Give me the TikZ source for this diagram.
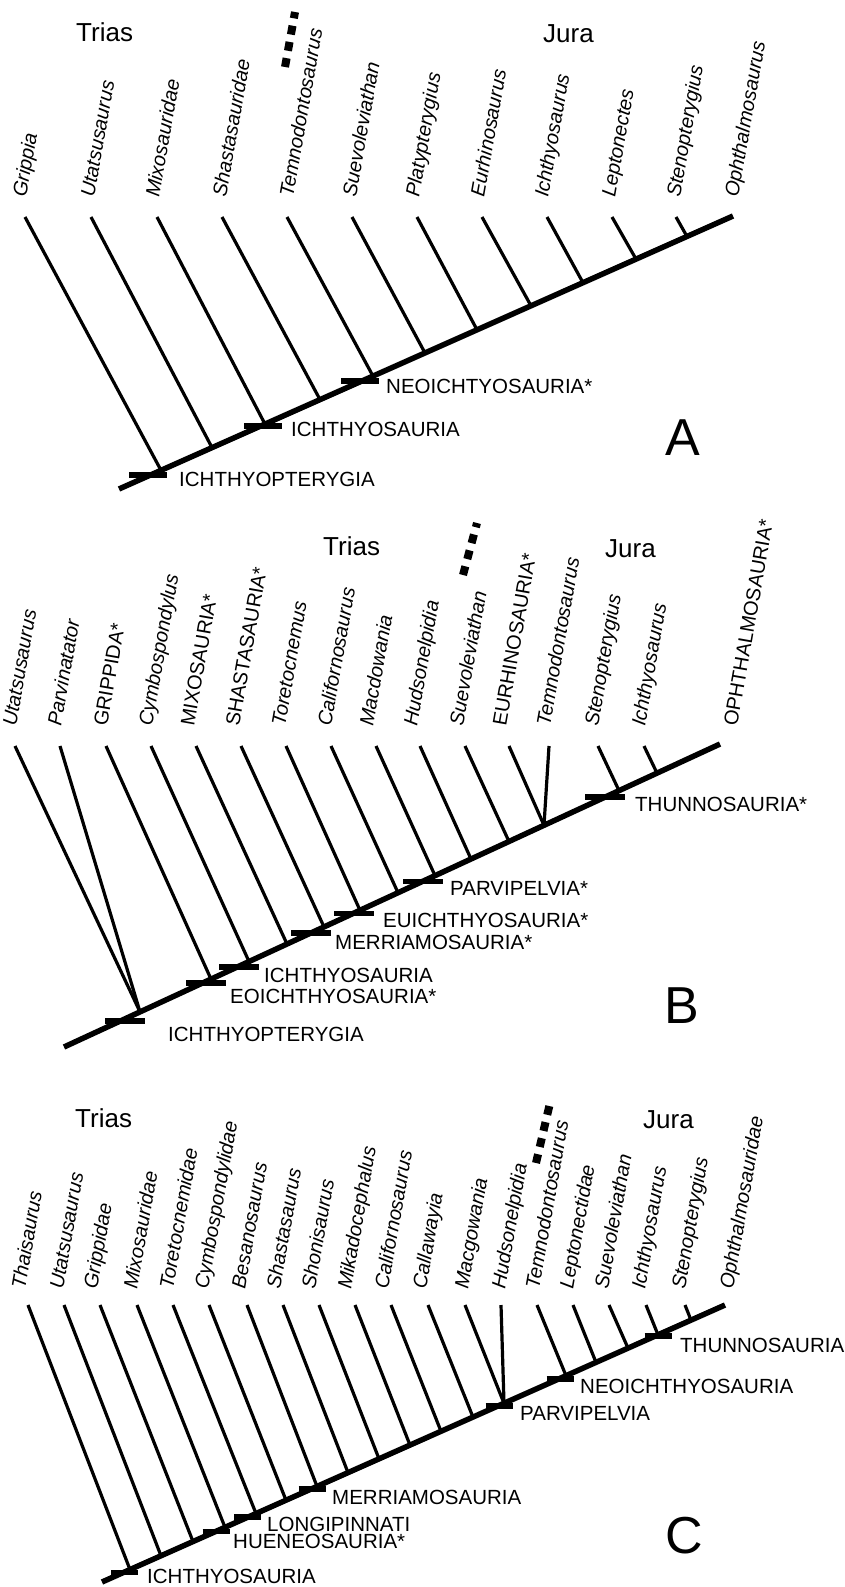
\documentclass[tikz,border=0pt]{standalone}
\usepackage{fontspec}
\setmainfont{Liberation Sans}
\begin{document}
\begin{tikzpicture}[x=1pt,y=-1pt,
  leafline/.style={line width=3.2pt},
  spineline/.style={line width=5.5pt},
  cladebar/.style={line width=5.5pt},
  taxon/.style={rotate=80,anchor=base west,inner sep=0pt,font=\fontsize{20}{24}\selectfont},
  cladelabel/.style={anchor=base west,inner sep=0pt,font=\fontsize{20.5}{24}\selectfont},
  periodlabel/.style={anchor=base west,inner sep=0pt,font=\fontsize{26}{30}\selectfont},
  panellabel/.style={anchor=base west,inner sep=0pt,font=\fontsize{52}{58}\selectfont},
  gapmark/.style={line width=8pt,dash pattern=on 9pt off 7.5pt}]
\useasboundingbox (0,0) rectangle (845,1587);

% ================= Panel A =================
\coordinate (a0) at (119,489);
\coordinate (a1) at (733,216);
\foreach \tx/\nx/\ny [count=\i] in {25/161/470.3,91/212/447.6,157/265/424.1,222/320/399.6,287/373/376.1,352/425/353.0,417/477/329.8,482/531/305.8,547/583/282.7,612/636/259.1,676/687/236.5}{
  \coordinate (ta\i) at (\tx,217);
  \coordinate (na\i) at (\nx,\ny);
  \draw[leafline] (ta\i) -- (na\i);
}
\draw[spineline] (a0) -- (a1);
\foreach \c/\y [count=\i] in {148/475,263/426,360/381}{
  \coordinate (bal\i) at (\c-19,\y);
  \coordinate (bar\i) at (\c+19,\y);
  \draw[cladebar] (bal\i) -- (bar\i);
}
\node[cladelabel] (ca1) at (179,486) {ICHTHYOPTERYGIA};
\node[cladelabel] (ca2) at (291,436) {ICHTHYOSAURIA};
\node[cladelabel] (ca3) at (386,393) {NEOICHTYOSAURIA*};
\foreach \x/\t [count=\i] in {26/Grippia,94/Utatsusaurus,159/Mixosauridae,226/Shastasauridae,293/Temnodontosaurus,356/Suevoleviathan,419/Platypterygius,484/Eurhinosaurus,548/Ichthyosaurus,615/Leptonectes,680/Stenopterygius,738/Ophthalmosaurus}{
  \node[taxon] (la\i) at (\x,198) {\textit{\t}};
}
\node[periodlabel] (triasA) at (76,42) {Trias};
\node[periodlabel] (juraA) at (543,43) {Jura};
\node[panellabel] (pA) at (665,455) {A};
\coordinate (gA0) at (285,67);
\coordinate (gA1) at (295,12);
\draw[gapmark] (gA0) -- (gA1);

% ================= Panel B =================
\coordinate (b0) at (64,1047);
\coordinate (b1) at (720,744);
\foreach \tx/\nx/\ny [count=\i] in {15/140/1011.9,60/140/1011.9,106/211/979.1,151/249/961.5,196/287/944.0,241/324/926.9,286/360/910.3,331/398/892.7,376/435/875.6,420/471/859.0,465/509/841.5,509/544/825.3,549/544/825.3,598/619/790.6,644/657/773.1}{
  \coordinate (tb\i) at (\tx,746);
  \coordinate (nb\i) at (\nx,\ny);
  \draw[leafline] (tb\i) -- (nb\i);
}
\draw[spineline] (b0) -- (b1);
\foreach \c/\y [count=\i] in {125/1021,206/983,239/967,311/933,354/913.5,423/881.5,605/797}{
  \coordinate (bbl\i) at (\c-20,\y);
  \coordinate (bbr\i) at (\c+20,\y);
  \draw[cladebar] (bbl\i) -- (bbr\i);
}
\node[cladelabel] (cb1) at (168,1041) {ICHTHYOPTERYGIA};
\node[cladelabel] (cb2) at (230,1003) {EOICHTHYOSAURIA*};
\node[cladelabel] (cb3) at (264,982) {ICHTHYOSAURIA};
\node[cladelabel] (cb4) at (335,949) {MERRIAMOSAURIA*};
\node[cladelabel] (cb5) at (383,927) {EUICHTHYOSAURIA*};
\node[cladelabel] (cb6) at (450,895) {PARVIPELVIA*};
\node[cladelabel] (cb7) at (635,811) {THUNNOSAURIA*};
\foreach \x/\t [count=\i] in {16/\textit{Utatsusaurus},61/\textit{Parvinatator},107/GRIPPIDA*,152/\textit{Cymbospondylus},194/MIXOSAURIA*,239/SHASTASAURIA*,285/\textit{Toretocnemus},331/\textit{Californosaurus},373/\textit{Macdowania},417/\textit{Hudsonelpidia},463/\textit{Suevoleviathan},506/EURHINOSAURIA*,550/\textit{Temnodontosaurus},598/\textit{Stenopterygius},645/\textit{Ichthyosaurus},737/OPHTHALMOSAURIA*}{
  \node[taxon] (lb\i) at (\x,727) {\t};
}
\node[periodlabel] (triasB) at (323,555) {Trias};
\node[periodlabel] (juraB) at (605,557) {Jura};
\node[panellabel] (pB) at (664,1023) {B};
\coordinate (gB0) at (463,575);
\coordinate (gB1) at (477,523);
\draw[gapmark] (gB0) -- (gB1);

% ================= Panel C =================
\coordinate (c0) at (102,1582);
\coordinate (c1) at (725,1305);
\foreach \tx/\nx/\ny [count=\i] in {28/130/1569.6,64/161/1555.8,100/193/1541.5,137/225/1527.3,173/256/1513.5,209/286/1500.2,247/317/1486.4,283/348/1472.6,319/379/1458.8,355/410/1445.1,391/441/1431.3,428/473/1417.1,465/504/1403.3,501/504/1403.3,537/566/1375.7,573/596/1362.4,609/628/1348.1,646/658/1334.8,685/691/1320.1}{
  \coordinate (tc\i) at (\tx,1305);
  \coordinate (nc\i) at (\nx,\ny);
  \draw[leafline] (tc\i) -- (nc\i);
}
\draw[spineline] (c0) -- (c1);
\foreach \c/\y [count=\i] in {124.5/1572.5,216/1531.5,247.5/1517,312/1489,499/1406,560/1379,658/1336}{
  \coordinate (bcl\i) at (\c-13.5,\y);
  \coordinate (bcr\i) at (\c+13.5,\y);
  \draw[cladebar] (bcl\i) -- (bcr\i);
}
\node[cladelabel] (cc1) at (147,1583) {ICHTHYOSAURIA};
\node[cladelabel] (cc2) at (233,1548) {HUENEOSAURIA*};
\node[cladelabel] (cc3) at (267,1531) {LONGIPINNATI};
\node[cladelabel] (cc4) at (332,1504) {MERRIAMOSAURIA};
\node[cladelabel] (cc5) at (520,1420) {PARVIPELVIA};
\node[cladelabel] (cc6) at (580,1393) {NEOICHTHYOSAURIA};
\node[cladelabel] (cc7) at (680,1352) {THUNNOSAURIA};
\foreach \x/\t [count=\i] in {25/Thaisaurus,63/Utatsusaurus,97/Grippidae,137/Mixosauridae,173/Toretocnemidae,208/Cymbospondylidae,245/Besanosaurus,280/Shastasaurus,315/Shonisaurus,351/Mikadocephalus,388/Californosaurus,426/Callawayia,468/Macgowania,505/Hudsonelpidia,539/Temnodontosaurus,573/Leptonectidae,608/Suevoleviathan,645/Ichthyosaurus,685/Stenopterygius,733/Ophthalmosauridae}{
  \node[taxon] (lc\i) at (\x,1290) {\textit{\t}};
}
\node[periodlabel] (triasC) at (75,1127) {Trias};
\node[periodlabel] (juraC) at (643,1128) {Jura};
\node[panellabel] (pC) at (665,1553) {C};
\coordinate (gC0) at (536,1163);
\coordinate (gC1) at (550,1103);
\draw[gapmark] (gC0) -- (gC1);
\end{tikzpicture}
\end{document}
